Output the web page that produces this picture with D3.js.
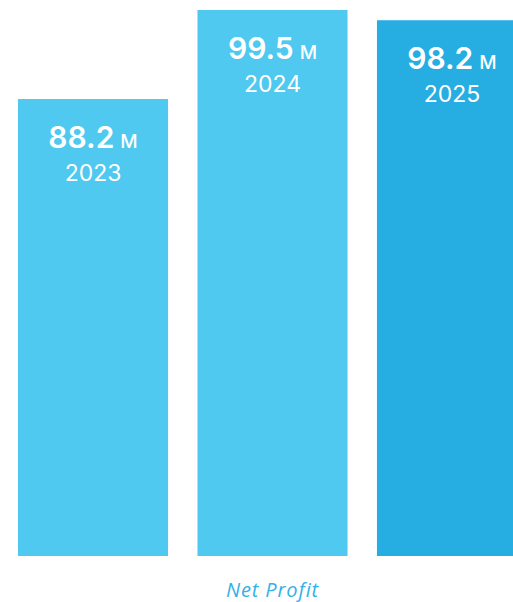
<!DOCTYPE html>
<html>
<head>
<meta charset="utf-8">
<script src="https://cdn.jsdelivr.net/npm/d3@7"></script>
<style>
  html, body { margin: 0; padding: 0; background: #fff; overflow: hidden; }
</style>
</head>
<body>
<div class="chart"></div>
<script>
var years = ["2023", "2024", "2025"],
    profits = [88.2, 99.5, 98.2],
    barColors = ["#4fc9f0", "#4fc9f0", "#26ade2"],
    unit = "M",
    caption = "Net Profit";

var width = 513,
    height = 602;

var x = d3.scaleBand()
    .domain(years)
    .range([18, 527])
    .paddingInner(0.164)
    .paddingOuter(0);

var y = d3.scaleLinear()
    .domain([30.2, 99.5])
    .range([556, 10]);

var svg = d3.select(".chart").append("svg")
    .attr("width", width)
    .attr("height", height);

var data = years.map(function (d, i) {
    return { year: d, value: profits[i], color: barColors[i] };
});

// bars
svg.selectAll("rect")
    .data(data)
    .enter().append("rect")
    .attr("x", function (d) { return x(d.year); })
    .attr("y", function (d) { return y(d.value); })
    .attr("width", x.bandwidth())
    .attr("height", function (d) { return y.range()[0] - y(d.value); })
    .attr("fill", function (d) { return d.color; });

// value labels
var vals = svg.selectAll("text.val")
    .data(data)
    .enter().append("text")
    .attr("class", "val")
    .attr("x", function (d) { return x(d.year) + x.bandwidth() / 2; })
    .attr("y", function (d) { return y(d.value) + 49; })
    .attr("text-anchor", "middle")
    .attr("fill", "#fff")
    .style("font-family", "Inter, sans-serif");

vals.append("tspan")
    .style("font-size", "30px")
    .style("font-weight", 600)
    .text(function (d) { return d.value.toFixed(1); });

vals.append("tspan")
    .attr("dx", 6)
    .style("font-size", "19px")
    .style("font-weight", 500)
    .text(unit);

// year labels
svg.selectAll("text.yr")
    .data(data)
    .enter().append("text")
    .attr("class", "yr")
    .attr("x", function (d) { return x(d.year) + x.bandwidth() / 2; })
    .attr("y", function (d) { return y(d.value) + 82; })
    .attr("text-anchor", "middle")
    .attr("fill", "#fff")
    .style("font-family", "Inter, sans-serif")
    .style("font-size", "23px")
    .style("font-weight", 400)
    .text(function (d) { return d.year; });

// caption
svg.append("text")
    .attr("x", (x.range()[0] + x.range()[1]) / 2)
    .attr("y", 597)
    .attr("text-anchor", "middle")
    .attr("fill", "#34b1e6")
    .style("font-family", "'Open Sans', sans-serif")
    .style("font-style", "italic")
    .style("font-size", "20px")
    .style("letter-spacing", "0.9px")
    .text(caption);
</script>
</body>
</html>
